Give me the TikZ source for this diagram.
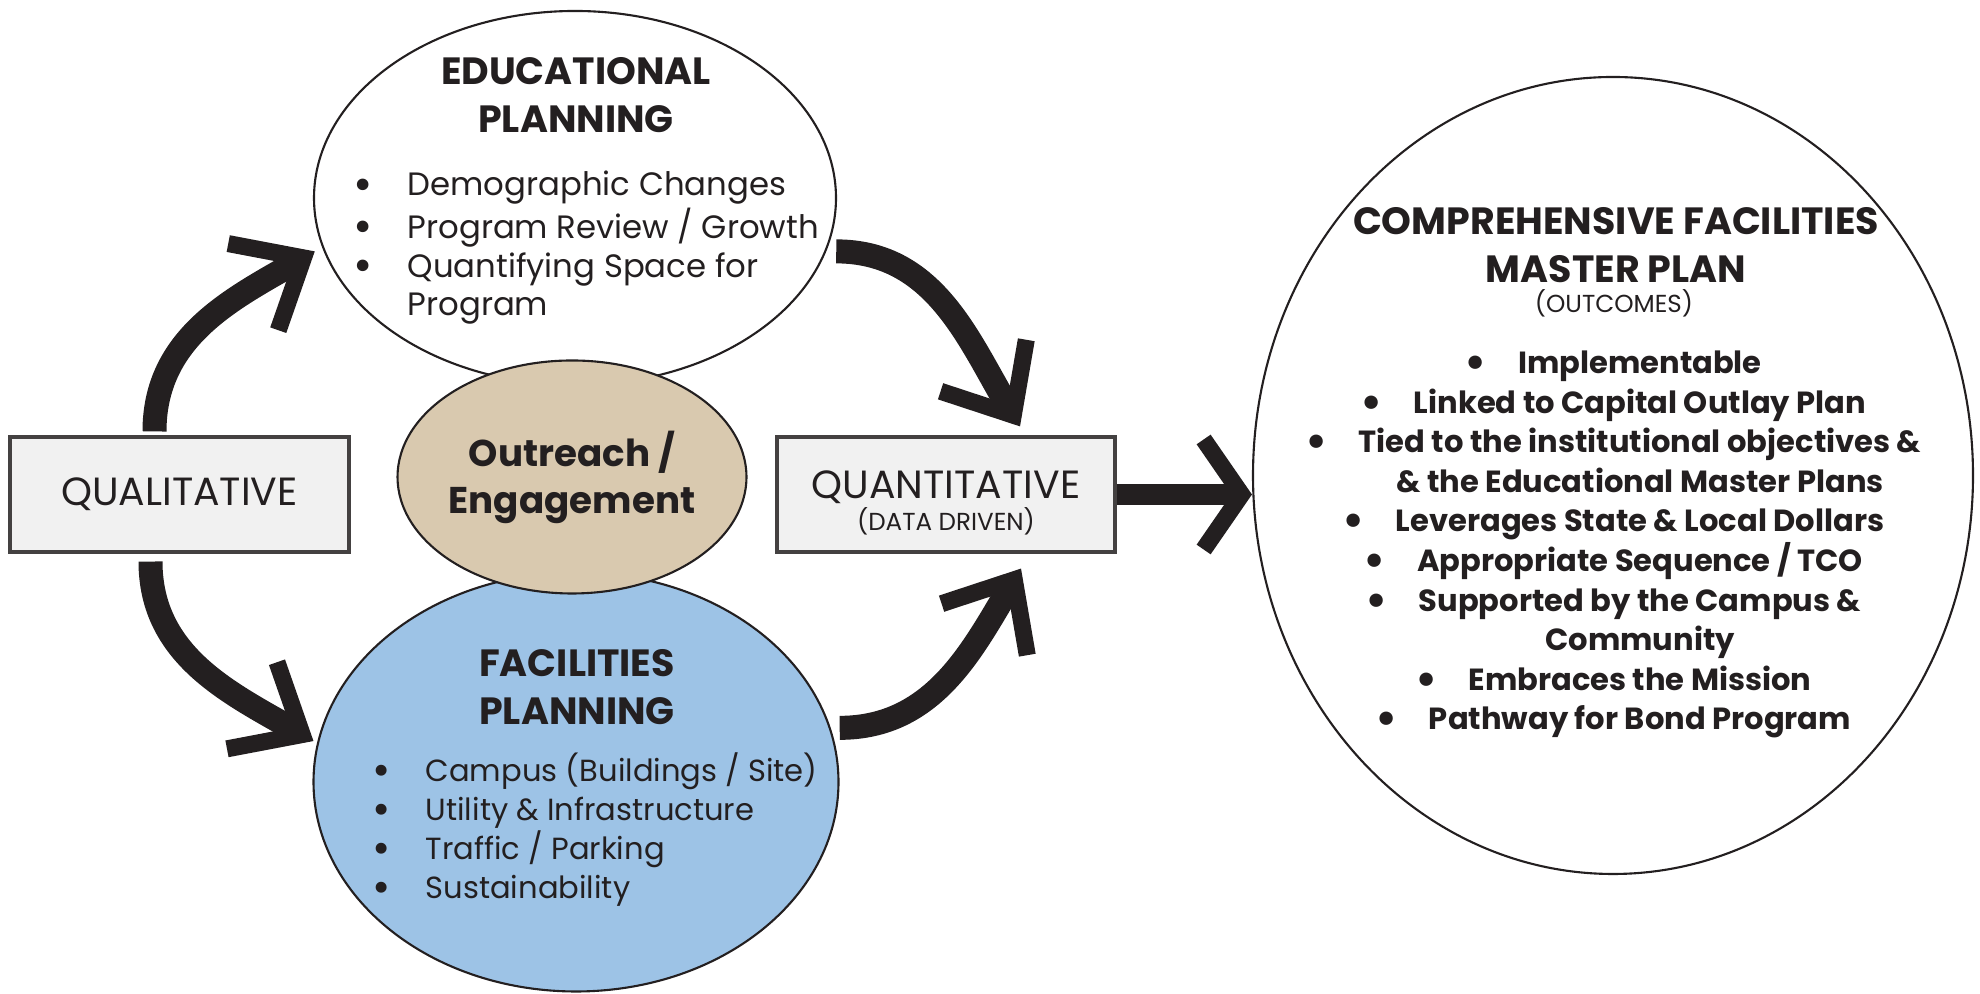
\documentclass[tikz,border=0pt]{standalone}
\usepackage{fontspec}
\setmainfont{Poppins}
\usepackage{graphicx}
\usepackage{tikz}
\usetikzlibrary{arrows.meta}
\usetikzlibrary{positioning,shapes}
\usepackage{xcolor}
\definecolor{inkdark}{HTML}{231F20}
\definecolor{boxgray}{HTML}{F1F1F1}
\definecolor{planblue}{HTML}{9DC3E6}
\definecolor{outreachtan}{HTML}{D9C9AF}
\tikzset{
    bubble/.style={
        draw=inkdark,
        ellipse,
        line width=0.6pt,
        inner sep=0pt
    },
    databox/.style={
        draw=inkdark!85,
        rectangle,
        fill=boxgray,
        line width=0.9pt,
        minimum width=3.38cm,
        minimum height=1.15cm,
        inner sep=0pt,
        text=inkdark,
        align=center,
        font=\fontsize{11.2}{13}\selectfont
    },
    bigarrow/.style={
        draw=inkdark,
        line width=0.24cm,
        -{Straight Barb[length=0.58cm, width=1.0cm, line width=0.17cm, sharp]}
    },
    heading/.style={
        font=\bfseries\fontsize{10.8}{13.7}\selectfont,
        text=inkdark,
        align=center,
        anchor=base,
        inner sep=0pt
    },
    itemlist/.style={
        font=\fontsize{9.2}{11}\selectfont,
        text=inkdark,
        align=left,
        anchor=base west,
        inner sep=0pt
    }
}
\newcommand{\itembul}[1][0.35cm]{\llap{\raisebox{-0.13em}{\scalebox{1.45}{\textbullet}}\hspace{#1}}}

\begin{document}
\begin{tikzpicture}
  \useasboundingbox (0,0) rectangle (19.8,9.94);

  % Planning bubbles
  \node[bubble, fill=white, minimum width=5.22cm, minimum height=3.74cm] (edu) at (5.75,7.96) {};
  \node[bubble, fill=planblue, minimum width=5.25cm, minimum height=4.19cm] (fac) at (5.76,2.12) {};
  \node[bubble, fill=outreachtan, minimum width=3.13cm, minimum height=2.33cm,
        font=\bfseries\fontsize{10.6}{13.4}\selectfont, align=center, text=inkdark] (outreach) at (5.72,5.17) {Outreach /\\Engagement};
  \node[bubble, minimum width=7.20cm, minimum height=7.97cm] (cfmp) at (16.13,5.185) {};

  % Qualitative and quantitative boxes
  \node[databox, minimum width=3.39cm] (qual) at (1.795,4.995) {QUALITATIVE};
  \node[databox] (quant) at (9.46,4.995) {\rule{0pt}{0.44cm}QUANTITATIVE\\[-4pt]{\fontsize{7}{8}\selectfont (DATA DRIVEN)}};

  % Texts inside the bubbles (anchored at the last line)
  \node[heading] (edutitle) at (5.76,8.61) {EDUCATIONAL\\PLANNING};
  \node[itemlist] (edulist) at (4.07,6.78) {\itembul Demographic Changes\\
    \itembul Program Review / Growth\\
    \itembul Quantifying Space for\\
    Program};
  \node[heading] (factitle) at (5.77,2.69) {FACILITIES\\PLANNING};
  \node[itemlist, font=\fontsize{8.7}{11.1}\selectfont] (faclist) at (4.25,0.95) {\itembul Campus (Buildings / Site)\\
    \itembul Utility \& Infrastructure\\
    \itembul Traffic / Parking\\
    \itembul Sustainability};
  \node[heading] (cfmptitle) at (16.16,7.11) {COMPREHENSIVE FACILITIES\\MASTER PLAN};
  \node[font=\fontsize{7}{8}\selectfont, text=inkdark, anchor=base, inner sep=0pt] (outcomes) at (16.14,6.81) {(OUTCOMES)};
  \node[heading, font=\bfseries\fontsize{8.7}{11.27}\selectfont] (cfmplist) at (16.40,2.64) {\itembul[0.31cm]Implementable\\
    \itembul[0.31cm]Linked to Capital Outlay Plan\\
    \itembul[0.31cm]Tied to the institutional objectives \&\\
    \& the Educational Master Plans\\
    \itembul[0.31cm]Leverages State \& Local Dollars\\
    \itembul[0.31cm]Appropriate Sequence / TCO\\
    \itembul[0.31cm]Supported by the Campus \&\\
    Community\\
    \itembul[0.31cm]Embraces the Mission\\
    \itembul[0.31cm]Pathway for Bond Program};

  % Qualitative feeds both planning bubbles
  \draw[bigarrow] ([xshift=-0.25cm, yshift=0.04cm]qual.north) to[out=90, in=210] ([xshift=-0.09cm]edu.192);
  \draw[bigarrow] ([xshift=-0.29cm, yshift=-0.08cm]qual.south) to[out=-90, in=150] ([xshift=-0.04cm]fac.171);

  % Planning bubbles feed the data box
  \draw[bigarrow] ([xshift=0.1cm]edu.348) to[out=0, in=121] ([xshift=0.74cm, yshift=0.09cm]quant.north);
  \draw[bigarrow] ([xshift=0.09cm]fac.12) to[out=0, in=-121] ([xshift=0.75cm, yshift=-0.15cm]quant.south);

  % Data box feeds the master plan
  \draw[bigarrow, line width=0.21cm, -{Straight Barb[length=0.38cm, width=1.1cm, line width=0.17cm, sharp]}] (quant.east) -- (quant.east -| cfmp.west);
\end{tikzpicture}
\end{document}
